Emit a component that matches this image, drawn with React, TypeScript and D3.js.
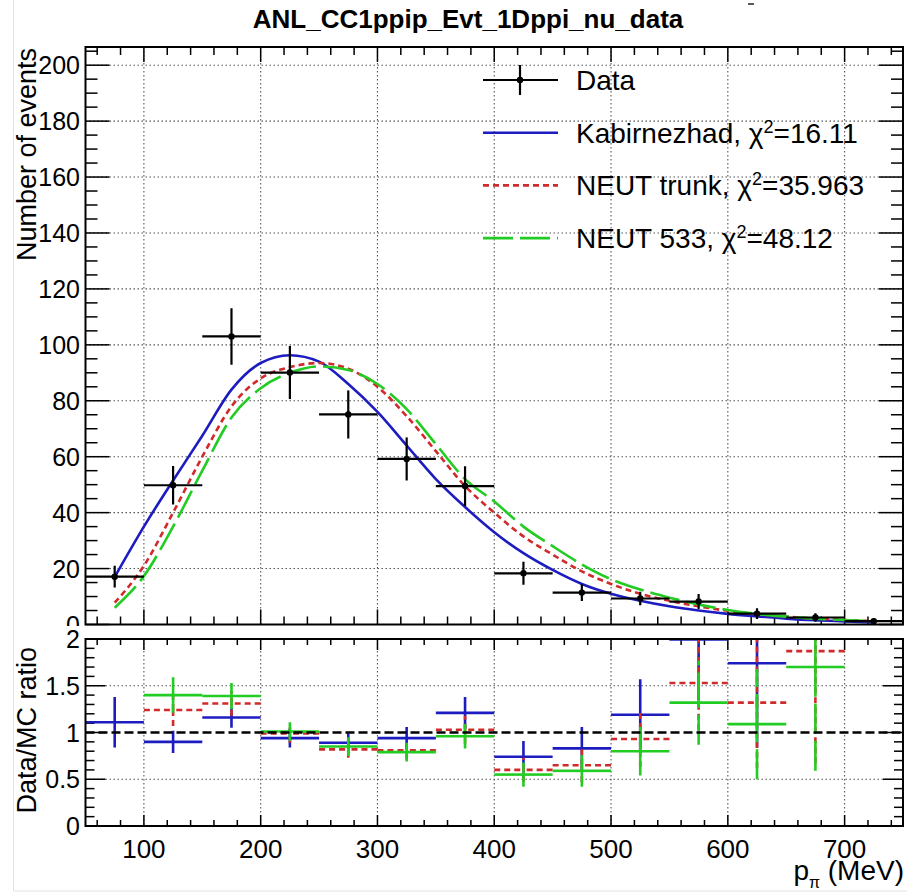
import React from "react";
import * as d3 from "d3";

// ---- data ----
const binCenters = [75, 125, 175, 225, 275, 325, 375, 425, 475, 525, 575, 625, 675, 725];
const binHalfWidth = 25;
const dataValues = [17.1, 49.8, 103.0, 90.1, 75.1, 59.2, 49.5, 18.3, 11.4, 9.3, 8.2, 3.9, 2.5, 1.2];
const dataErrors = [3.9, 6.9, 10.1, 9.5, 8.6, 7.7, 7.1, 4.1, 3.0, 2.4, 2.7, 1.9, 1.5, 1.0];

const curveX = [75, 100, 125, 150, 175, 200, 225, 250, 275, 300, 325, 350, 375, 400, 425, 450, 475, 500, 525, 550, 575, 600, 625, 650, 675, 700, 725];
const kabirnezhad = [17, 35, 51.5, 67.5, 84, 93.5, 96.3, 94, 86, 76, 64, 52, 42, 33, 25.5, 19.5, 14.5, 11, 8.5, 6.5, 5, 3.8, 2.9, 2.1, 1.5, 1.1, 0.7];
const neutTrunk = [7.8, 21, 40, 60, 78, 88, 92, 93.5, 91.5, 85, 74.5, 62, 49.5, 40, 31.5, 25, 19, 14.5, 11, 8.5, 6.5, 4.9, 3.7, 2.8, 2.1, 1.6, 1.2];
const neut533 = [6, 17.3, 35, 55, 74, 84.5, 90, 92.3, 91, 86, 77, 64.5, 52, 44, 35, 28, 21.5, 16.2, 12.5, 9.6, 7.2, 5.2, 3.8, 2.8, 2.1, 1.6, 1.2];

// ratio panel (null = off scale, not drawn)
const ratioKabir: (number | null)[] = [1.11, 0.90, 1.16, 0.94, 0.89, 0.94, 1.21, 0.74, 0.83, 1.19, 1.995, 1.74, null, null];
const ratioKabirErr = [0.27, 0.12, 0.11, 0.10, 0.10, 0.12, 0.17, 0.17, 0.23, 0.38, 0.65, 0.9, 0, 0];
const ratioTrunk: (number | null)[] = [null, 1.24, 1.31, 0.99, 0.82, 0.81, 1.03, 0.60, 0.65, 0.93, 1.53, 1.32, 1.87, null];
const ratioTrunkErr = [0, 0.17, 0.13, 0.10, 0.09, 0.10, 0.15, 0.13, 0.18, 0.30, 0.50, 0.70, 1.2, 0];
const ratio533: (number | null)[] = [null, 1.40, 1.39, 1.01, 0.85, 0.79, 0.96, 0.55, 0.59, 0.80, 1.32, 1.09, 1.70, null];
const ratio533Err = [0, 0.19, 0.14, 0.10, 0.10, 0.10, 0.13, 0.13, 0.17, 0.26, 0.45, 0.59, 1.11, 0];

const xMajor = [100, 200, 300, 400, 500, 600, 700];
const yMajorTop = [0, 20, 40, 60, 80, 100, 120, 140, 160, 180, 200];
const yMajorRatio = [0, 0.5, 1, 1.5, 2];
const yRatioLabels = ["0", "0.5", "1", "1.5", "2"];

const title = "ANL_CC1ppip_Evt_1Dppi_nu_data";
const legendLabels = ["Data", "Kabirnezhad", "NEUT trunk", "NEUT 533"];
const legendChi = ["", "16.11", "35.963", "48.12"];

// ---- styles ----
const FONT = "'Liberation Sans', Arial, Helvetica, sans-serif";
const BLUE = "#1c1cc0";
const RED = "#d02a2a";
const GREEN = "#22cc22";
const RED_DASH = "6,4";
const GREEN_DASH = "30,7";

export default function App() {
  const W = 907, H = 894;
  const xL = 85.5, xR = 903;
  const topT = 47, topB = 624.5;
  const botT = 639, botB = 826;

  const x = d3.scaleLinear().domain([50, 750]).range([xL, xR]);
  const y = d3.scaleLinear().domain([0, 206.5]).range([topB, topT]);
  const yr = d3.scaleLinear().domain([0, 2]).range([botB, botT]);

  const line = (vals: number[]) =>
    d3.line<number>().x((_, i) => x(curveX[i])).y((v) => y(v)).curve(d3.curveMonotoneX)(vals) || "";

  const xMinor = d3.range(60, 750, 20);
  const yMinorTop = d3.range(0, 206, 5);
  const yMinorRatio = d3.range(0, 2.001, 0.1);

  const grid = { stroke: "#555", strokeWidth: 1.1, strokeDasharray: "1.5,2.5" };

  const ratioMarks = (vals: (number | null)[], errs: number[], color: string, dash?: string, key?: string) =>
    vals.map((r, i) => {
      if (r === null) return null;
      const c = binCenters[i];
      const e = errs[i];
      return (
        <g key={`${key}${i}`} stroke={color} strokeWidth={2.6} strokeDasharray={dash} fill="none">
          <line x1={x(c - binHalfWidth)} x2={x(c)} y1={yr(r)} y2={yr(r)} />
          <line x1={x(c + binHalfWidth)} x2={x(c)} y1={yr(r)} y2={yr(r)} />
          <line x1={x(c)} x2={x(c)} y1={yr(r - e)} y2={yr(r)} />
          <line x1={x(c)} x2={x(c)} y1={yr(r)} y2={yr(r + e)} />
        </g>
      );
    });

  return (
    <svg width={W} height={H} style={{ position: "absolute", left: 0, top: 0, background: "#fff" }} fontFamily={FONT}>
      <defs>
        <clipPath id="clipTop"><rect x={xL} y={topT} width={xR - xL} height={topB - topT} /></clipPath>
        <clipPath id="clipBot"><rect x={xL} y={botT} width={xR - xL} height={botB - botT} /></clipPath>
        <clipPath id="clipTopPad"><rect x={0} y={0} width={W} height={626} /></clipPath>
      </defs>
      <rect x={0} y={0} width={W} height={H} fill="#fff" />
      {/* title */}
      <text x={468} y={28} textAnchor="middle" fontSize={26} fontWeight="bold">{title}</text>
      <line x1={748} x2={754} y1={4} y2={4} stroke="#222" strokeWidth={1.5} />

      {/* ===== top panel ===== */}
      {xMajor.map((v) => <line key={`gx${v}`} x1={x(v)} x2={x(v)} y1={topT} y2={topB} {...grid} />)}
      {yMajorTop.filter((v) => v > 0).map((v) => <line key={`gy${v}`} x1={xL} x2={xR} y1={y(v)} y2={y(v)} {...grid} />)}

      {/* ticks */}
      {yMinorTop.map((v) => {
        const major = v % 20 === 0;
        const L = major ? 24 : 12;
        return (
          <g key={`ty${v}`} stroke="#000" strokeWidth={1.5}>
            <line x1={xL} x2={xL + L} y1={y(v)} y2={y(v)} />
            <line x1={xR} x2={xR - L} y1={y(v)} y2={y(v)} />
          </g>
        );
      })}
      {xMinor.map((v) => {
        const major = v % 100 === 0;
        const L = major ? 15 : 8;
        return (
          <g key={`tx${v}`} stroke="#000" strokeWidth={1.5}>
            <line x1={x(v)} x2={x(v)} y1={topB} y2={topB - L} />
            <line x1={x(v)} x2={x(v)} y1={topT} y2={topT + L} />
          </g>
        );
      })}

      {/* curves */}
      <g clipPath="url(#clipTop)" fill="none" strokeWidth={2.6}>
        <path d={line(kabirnezhad)} stroke={BLUE} />
        <path d={line(neutTrunk)} stroke={RED} strokeDasharray={RED_DASH} />
        <path d={line(neut533)} stroke={GREEN} strokeDasharray={GREEN_DASH} />
      </g>

      {/* data */}
      <g clipPath="url(#clipTop)" stroke="#000" strokeWidth={2.2}>
        {binCenters.map((c, i) => (
          <g key={`d${c}`}>
            <line x1={x(c - binHalfWidth)} x2={x(c + binHalfWidth)} y1={y(dataValues[i])} y2={y(dataValues[i])} />
            <line x1={x(c)} x2={x(c)} y1={y(dataValues[i] - dataErrors[i])} y2={y(dataValues[i] + dataErrors[i])} />
            <circle cx={x(c)} cy={y(dataValues[i])} r={3.2} fill="#000" stroke="none" />
          </g>
        ))}
      </g>

      {/* frame */}
      <rect x={xL} y={topT} width={xR - xL} height={topB - topT} fill="none" stroke="#000" strokeWidth={2} />

      {/* y labels top */}
      <g clipPath="url(#clipTopPad)">
        {yMajorTop.map((v) => (
          <text key={`ly${v}`} x={80} y={y(v) + 9} textAnchor="end" fontSize={25}>{v}</text>
        ))}
      </g>
      <text transform={`translate(36,48) rotate(-90)`} textAnchor="end" fontSize={27}>Number of events</text>

      {/* legend */}
      {legendLabels.map((lab, i) => {
        const ly = 80 + i * 52.7;
        return (
          <g key={`lg${i}`}>
            {i === 0 && (
              <g stroke="#000" strokeWidth={2.2}>
                <line x1={483} x2={558} y1={ly} y2={ly} />
                <line x1={520} x2={520} y1={ly - 15} y2={ly + 15} />
                <circle cx={520} cy={ly} r={3.2} fill="#000" stroke="none" />
              </g>
            )}
            {i === 1 && <line x1={483} x2={558} y1={ly} y2={ly} stroke={BLUE} strokeWidth={2.6} />}
            {i === 2 && <line x1={483} x2={558} y1={ly} y2={ly} stroke={RED} strokeWidth={2.6} strokeDasharray={RED_DASH} />}
            {i === 3 && <line x1={483} x2={558} y1={ly} y2={ly} stroke={GREEN} strokeWidth={2.6} strokeDasharray={GREEN_DASH} />}
            <text x={576} y={ly + 10} fontSize={28}>
              {i === 0 ? lab : (
                <>
                  {lab}, χ<tspan dy={-10} fontSize={18}>2</tspan><tspan dy={10}>={legendChi[i]}</tspan>
                </>
              )}
            </text>
          </g>
        );
      })}

      {/* ===== bottom pad ===== */}
      <rect x={14} y={626} width={W - 14} height={891 - 626} fill="#fff" />
      <line x1={13.5} x2={13.5} y1={0} y2={891} stroke="#e2e2e2" strokeWidth={1} />
      <line x1={13.5} x2={W} y1={891} y2={891} stroke="#e2e2e2" strokeWidth={1} />

      {xMajor.map((v) => <line key={`rgx${v}`} x1={x(v)} x2={x(v)} y1={botT} y2={botB} {...grid} />)}
      {[0.5, 1.5].map((v) => <line key={`rgy${v}`} x1={xL} x2={xR} y1={yr(v)} y2={yr(v)} {...grid} />)}

      {yMinorRatio.map((v, i) => {
        const major = i % 5 === 0;
        const L = major ? 20 : 9;
        return (
          <g key={`rty${i}`} stroke="#000" strokeWidth={1.5}>
            <line x1={xL} x2={xL + L} y1={yr(v)} y2={yr(v)} />
            <line x1={xR} x2={xR - L} y1={yr(v)} y2={yr(v)} />
          </g>
        );
      })}
      {xMinor.map((v) => {
        const major = v % 100 === 0;
        const L = major ? 11 : 6;
        return (
          <g key={`rtx${v}`} stroke="#000" strokeWidth={1.5}>
            <line x1={x(v)} x2={x(v)} y1={botB} y2={botB - L} />
            <line x1={x(v)} x2={x(v)} y1={botT} y2={botT + L} />
          </g>
        );
      })}

      <g clipPath="url(#clipBot)">
        {ratioMarks(ratioKabir, ratioKabirErr, BLUE, undefined, "rb")}
        {ratioMarks(ratioTrunk, ratioTrunkErr, RED, RED_DASH, "rr")}
        {ratioMarks(ratio533, ratio533Err, GREEN, GREEN_DASH, "rg")}
        <line x1={xL} x2={xR} y1={yr(1)} y2={yr(1)} stroke="#000" strokeWidth={2.5} strokeDasharray="9,4" />
      </g>

      <rect x={xL} y={botT} width={xR - xL} height={botB - botT} fill="none" stroke="#000" strokeWidth={2} />

      {yMajorRatio.map((v, i) => (
        <text key={`lry${i}`} x={80} y={yr(v) + 9} textAnchor="end" fontSize={25}>{yRatioLabels[i]}</text>
      ))}
      {xMajor.map((v) => (
        <text key={`lrx${v}`} x={x(v)} y={858} textAnchor="middle" fontSize={26}>{v}</text>
      ))}
      <text transform={`translate(36,647) rotate(-90)`} textAnchor="end" fontSize={27}>Data/MC ratio</text>

      <text x={904} y={880} textAnchor="end" fontSize={28}>
        p<tspan dy={8} fontSize={16}>π</tspan><tspan dy={-8}> (MeV)</tspan>
      </text>
    </svg>
  );
}
